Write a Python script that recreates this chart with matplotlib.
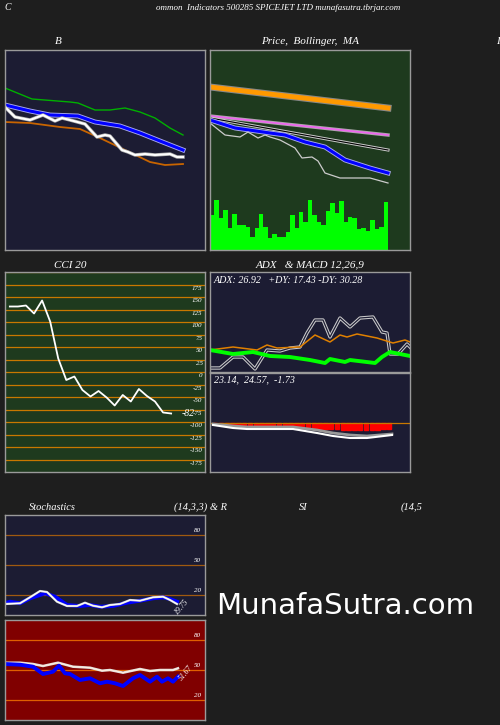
import matplotlib
matplotlib.use("Agg")
import matplotlib.pyplot as plt

W, H = 500, 725
FONT = "Liberation Serif"

# ---------------- data ----------------
b_green_x = [5, 32, 70, 78, 95, 110, 125, 140, 155, 170, 183]
b_green = [88, 99, 102, 103, 110, 110, 108, 112, 118, 128, 135]
b_blue_x = [5, 30, 50, 78, 95, 120, 140, 160, 183]
b_blue = [105, 111, 115, 116, 122, 126, 133, 141, 150]
b_white_x = [5, 15, 30, 43, 55, 62, 70, 85, 97, 105, 110, 122, 128, 135, 145, 155, 170, 177, 183]
b_white = [107, 117, 120, 115, 121, 118, 120, 124, 137, 135, 136, 150, 152, 155, 154, 155, 154, 157, 157]
b_orange_x = [5, 30, 60, 80, 100, 125, 150, 165, 183]
b_orange = [122, 123, 127, 129, 138, 150, 162, 165, 164]

p_x_lin = [210, 388]
p_orange = [87, 108]
p_pink = [116, 135]
p_black = [118, 150]
p_blue_x = [210, 235, 270, 285, 305, 325, 345, 370, 388]
p_blue = [120, 128, 133, 135, 142, 147, 160, 168, 173]
p_gray_x = [210, 225, 240, 248, 258, 265, 270, 280, 295, 302, 312, 318, 325, 340, 355, 370, 388]
p_gray = [123, 135, 137, 132, 138, 135, 137, 140, 148, 158, 157, 161, 173, 178, 178, 178, 183]
vol_tops = [215, 200, 218, 210, 228, 214, 225, 225, 227, 237, 228, 214, 227, 238, 234, 237, 237, 232,
            215, 228, 212, 222, 200, 215, 222, 225, 211, 203, 213, 201, 222, 217, 218, 229, 228, 231,
            220, 229, 227, 202]

cci_vals = [132, 132, 134, 118, 144, 102, 28, -15, -8, -35, -48, -37, -50, -66, -45, -58, -33, -47, -58, -80, -82]
cci_levels = [175, 150, 125, 100, 75, 50, 25, 0, -25, -50, -75, -100, -125, -150, -175]

adx_green_x = [210, 233, 253, 270, 290, 310, 325, 330, 345, 350, 375, 382, 390, 410]
adx_green = [350, 354, 352, 356, 357, 360, 363, 359, 362, 360, 363, 357, 352, 356]
adx_orange_x = [210, 233, 257, 267, 277, 300, 315, 330, 340, 347, 357, 377, 393, 405, 410]
adx_orange = [350, 347, 350, 345, 348, 347, 335, 342, 335, 337, 334, 338, 343, 340, 342]
adx_gray_x = [210, 220, 233, 243, 255, 267, 280, 290, 300, 307, 315, 323, 330, 340, 350, 360, 373, 382, 387, 390, 398, 407, 410]
adx_gray = [368, 368, 357, 357, 369, 350, 351, 348, 347, 333, 320, 320, 337, 318, 327, 318, 317, 332, 333, 354, 354, 344, 347]

macd_zero = 422.7
hist_bottom = [424, 424, 425, 425, 425, 426, 426, 426, 426, 426, 426, 427, 427, 427, 427, 428, 428,
               428, 429, 429, 429, 429, 430, 430, 430, 430, 430, 430, 430, 429, 429]
macd_white_x = [213, 233, 247, 293, 317, 333, 350, 367, 392]
macd_white = [425, 428, 429, 429, 433, 436, 438, 438, 435]
macd_gray = [424, 426, 427, 427, 430, 433, 435, 436, 434]

st_x = [5, 10, 20, 30, 45, 55, 67, 80, 90, 100, 113, 127, 140, 153, 163, 170, 177]
st_blue = [11.7, 13.3, 11.7, 16.7, 21.7, 18.3, 10, 9, 10, 8.3, 9, 12.3, 14.3, 16.7, 17.7, 16, 13.3]
st_white_x = [5, 20, 30, 40, 47, 57, 67, 77, 85, 93, 102, 110, 120, 130, 140, 153, 163, 170, 177]
st_white = [11, 11.7, 17.7, 24, 23, 13.3, 9, 9, 12.3, 9.3, 7.7, 10, 11, 15, 14.3, 17.7, 18.3, 15, 11]

rsi_white_x = [5, 20, 33, 43, 58, 73, 90, 102, 110, 123, 140, 150, 160, 173, 178]
rsi_white = [57.3, 57.3, 56, 54, 57.3, 53.3, 52.3, 49.3, 50, 47.3, 51, 49, 50, 50, 51.7]
rsi_blue_x = [5, 20, 33, 43, 53, 59, 65, 70, 80, 90, 100, 107, 115, 123, 133, 140, 150, 157, 162, 168, 173, 178]
rsi_blue = [56, 55.3, 53.3, 46, 48.3, 54.3, 46.7, 46, 40, 41.7, 36.7, 38.3, 36.7, 34, 41.7, 45, 38.3, 43.3, 38.3, 41.7, 38.3, 43.3]

# ---------------- drawing ----------------
fig = plt.figure(figsize=(W / 100, H / 100), dpi=100)
fig.patch.set_facecolor("#1e1e1e")


def pax(x0, y0, x1, y1, bg, xlim=None, ylim=None):
    a = fig.add_axes([x0 / W, 1 - y1 / H, (x1 - x0) / W, (y1 - y0) / H])
    a.set_facecolor(bg)
    a.set_xticks([]); a.set_yticks([])
    for s in a.spines.values():
        s.set_color("#9a9a9a"); s.set_linewidth(1)
    a.set_xlim(*(xlim or (x0, x1)))
    a.set_ylim(*(ylim or (y1, y0)))
    return a


def txt(x, y, s, size=8, ha="center", **kw):
    fig.text(x / W, 1 - y / H, s, color="white", fontsize=size, ha=ha, va="center",
             family=FONT, style="italic", **kw)


txt(8, 8, "C", 7)
txt(278, 8, "ommon  Indicators 500285 SPICEJET LTD munafasutra.tbrjar.com", 6.5)
txt(58, 42, "B", 8)
txt(310, 42, "Price,  Bollinger,  MA", 8)
txt(498, 42, "I", 8)
txt(70, 265, "CCI 20", 8)
txt(310, 265, "ADX   & MACD 12,26,9", 8)
txt(52, 507, "Stochastics", 7.5)
txt(200, 507, "(14,3,3) & R", 7.5)
txt(303, 507, "SI", 7.5)
txt(412, 507, "(14,5", 7.5)
fig.text(345 / W, 1 - 606 / H, "MunafaSutra.com", color="white", fontsize=21, ha="center", va="center",
         family="DejaVu Sans")

# B panel
a = pax(5, 50, 205, 250, "#1c1c33")
a.plot(b_green_x, b_green, color="#00b000", lw=1)
a.plot(b_blue_x, b_blue, color="#aaaaee", lw=3.5)
a.plot(b_blue_x, b_blue, color="#0000ff", lw=2.2)
a.plot(b_orange_x, b_orange, color="#c86400", lw=1.3)
a.plot(b_white_x, b_white, color="#aaaaaa", lw=2.5)
a.plot(b_white_x, b_white, color="white", lw=1.5)

# Price panel
a = pax(210, 50, 410, 250, "#1e3a1e")
a.bar([210 + 4.45 * i for i in range(len(vol_tops))], [250 - t for t in vol_tops], bottom=vol_tops,
      width=4.45, align="edge", color="#00ff00")
a.plot(p_x_lin, p_orange, color="#888888", lw=5)
a.plot(p_x_lin, p_orange, color="#ff9900", lw=3.5)
a.plot(p_x_lin, p_pink, color="#aaaaaa", lw=2.5)
a.plot(p_x_lin, p_pink, color="#ee66ee", lw=1.3)
a.plot(p_x_lin, p_black, color="#cccccc", lw=2.2)
a.plot(p_x_lin, p_black, color="black", lw=0.8)
a.plot(p_blue_x, p_blue, color="#aaaaee", lw=3.5)
a.plot(p_blue_x, p_blue, color="#0000ff", lw=2.2)
a.plot(p_gray_x, p_gray, color="#cccccc", lw=0.9)

# CCI panel
a = pax(5, 272, 205, 472, "#1e3a1e", xlim=(-0.6, 24.2), ylim=(-199, 201))
for v in cci_levels:
    a.axhline(v, color="#c87800", lw=0.9)
    a.text(23.9, v - 2, str(v), color="white", fontsize=5, ha="right", va="top", family=FONT, style="italic")
a.axhline(200, color="#c87800", lw=0.9)
a.plot(range(len(cci_vals)), cci_vals, color="white", lw=1.3)
a.text(21.3, cci_vals[-1], str(cci_vals[-1]), color="white", fontsize=7, va="center", family=FONT, style="italic")

# ADX panel
a = pax(210, 272, 410, 372, "#1c1c33")
a.plot(adx_gray_x, adx_gray, color="#cccccc", lw=2.4)
a.plot(adx_gray_x, adx_gray, color="#1c1c33", lw=0.9)
a.plot(adx_orange_x, adx_orange, color="#e08000", lw=1.1)
a.plot(adx_green_x, adx_green, color="#00ff00", lw=2.8)
a.text(214, 281, "ADX: 26.92   +DY: 17.43 -DY: 30.28", color="white", fontsize=7.2, va="center",
       family=FONT, style="italic")

# MACD panel
a = pax(210, 373, 410, 472, "#1c1c33")
a.axhline(macd_zero, color="#c87800", lw=0.9)
xs = [213 + 5.8 * i for i in range(len(hist_bottom))]
a.bar(xs, [b - macd_zero for b in hist_bottom], bottom=macd_zero, width=4.4, align="edge",
      color="#ff0000", edgecolor="#ff0000")
a.plot(macd_white_x, macd_gray, color="#999999", lw=2)
a.plot(macd_white_x, macd_white, color="white", lw=1.5)
a.text(214, 380, "23.14,  24.57,  -1.73", color="white", fontsize=7.2, va="center",
       family=FONT, style="italic")

# Stochastics panel
a = pax(5, 515, 205, 615, "#1c1c33", ylim=(0, 100))
for v in [80, 50, 20]:
    a.axhline(v, color="#a05a10", lw=0.9)
    a.text(201, v + 2, str(v), color="white", fontsize=5, ha="right", va="bottom", family=FONT, style="italic")
a.plot(st_x, st_blue, color="#0000ff", lw=2.8)
a.plot(st_white_x, st_white, color="#cccccc", lw=1.6)
a.plot(st_white_x, st_white, color="white", lw=0.8)
a.text(182, 8, "19.75", color="white", fontsize=5.5, rotation=50, ha="center", va="center",
       family=FONT, style="italic")

# RSI panel
a = pax(5, 620, 205, 720, "#800000", ylim=(0, 100))
for v in [80, 50, 20]:
    a.axhline(v, color="#e06000", lw=0.9)
    a.text(201, v + 2, str(v), color="white", fontsize=5, ha="right", va="bottom", family=FONT, style="italic")
a.plot(rsi_white_x, rsi_white, color="#dddddd", lw=1.8)
a.plot(rsi_white_x, rsi_white, color="#ffeedd", lw=0.8)
a.plot(rsi_blue_x, rsi_blue, color="#0000ff", lw=2.8)
a.text(186, 47, "51.67", color="white", fontsize=5.5, rotation=50, ha="center", va="center",
       family=FONT, style="italic")

fig.savefig("out.png", dpi=100, facecolor=fig.get_facecolor())
